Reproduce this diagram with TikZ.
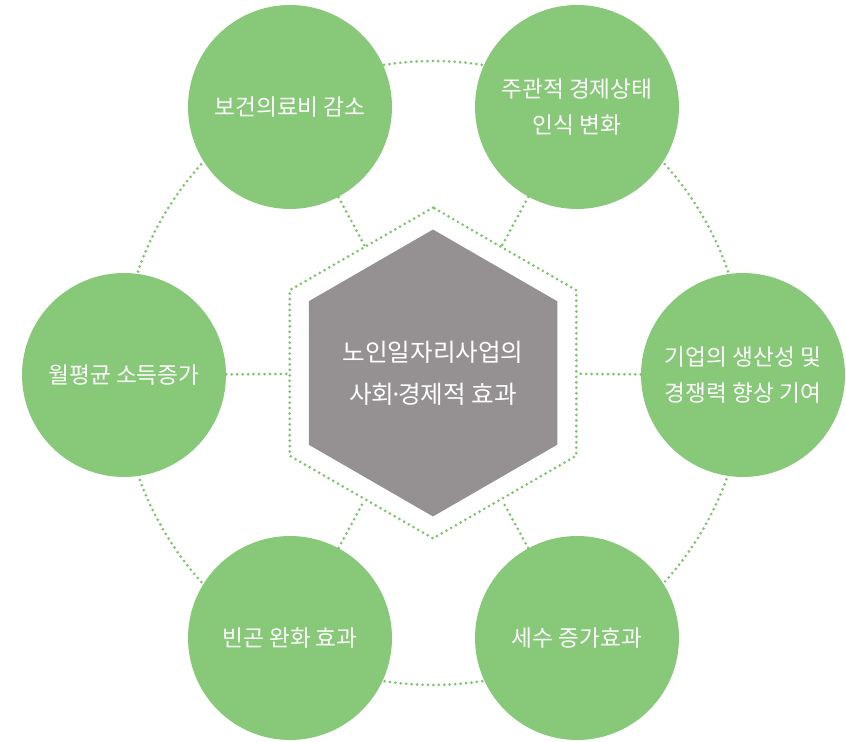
\documentclass[tikz,border=0pt]{standalone}
\usepackage{fontspec}
\setmainfont{Noto Sans CJK KR}
\usepackage{tikz}
\usetikzlibrary{shapes.geometric}

\definecolor{effgreen}{HTML}{87C879}
\definecolor{hexgray}{HTML}{959192}
\definecolor{dotgreen}{HTML}{7CC56A}

\tikzset{
    effect/.style={circle, fill=effgreen, minimum size=4.08cm, inner sep=0pt,
        text=white, align=center, font=\fontsize{12.9}{21}\selectfont},
    dotline/.style={draw=dotgreen, line width=1.7pt, line cap=round, dash pattern=on 0pt off 3.1pt},
    hexa/.style={regular polygon, regular polygon sides=6, shape border rotate=30, inner sep=0pt}
}

\begin{document}
\begin{tikzpicture}[x=0.02cm, y=-0.02cm]
    \useasboundingbox (0,0) rectangle (846,742);
    \coordinate (ctr) at (433,373);
    \draw[dotline] (ctr) circle (6.24cm);

    \node[hexa, dotline, minimum size=6.62cm] (outerhex) at (ctr) {};
    \node[hexa, fill=hexgray, minimum size=5.74cm] (core) at (ctr) {};
    \node[text=white, align=center, font=\fontsize{14}{23.8}\selectfont] (coretext) at (core.center)
        {노인일자리사업의\\사회\kern-0.2em·\kern-0.2em경제적 효과};

	\node[effect] (health) at (290,107) {보건의료비 감소};
	\node[effect] (mind) at (577,107) {주관적 경제상태\\인식 변화};
	\node[effect] (firm) at (743,375) {기업의 생산성 및\\경쟁력 향상 기여};
	\node[effect] (tax) at (577,638) {세수 증가효과};
	\node[effect] (poverty) at (290,638) {빈곤 완화 효과};
	\node[effect] (income) at (124,375) {월평균 소득증가};

    \foreach \c in {health,mind,firm,tax,poverty,income}
        \draw[dotline] (\c) -- (outerhex);
\end{tikzpicture}
\end{document}
